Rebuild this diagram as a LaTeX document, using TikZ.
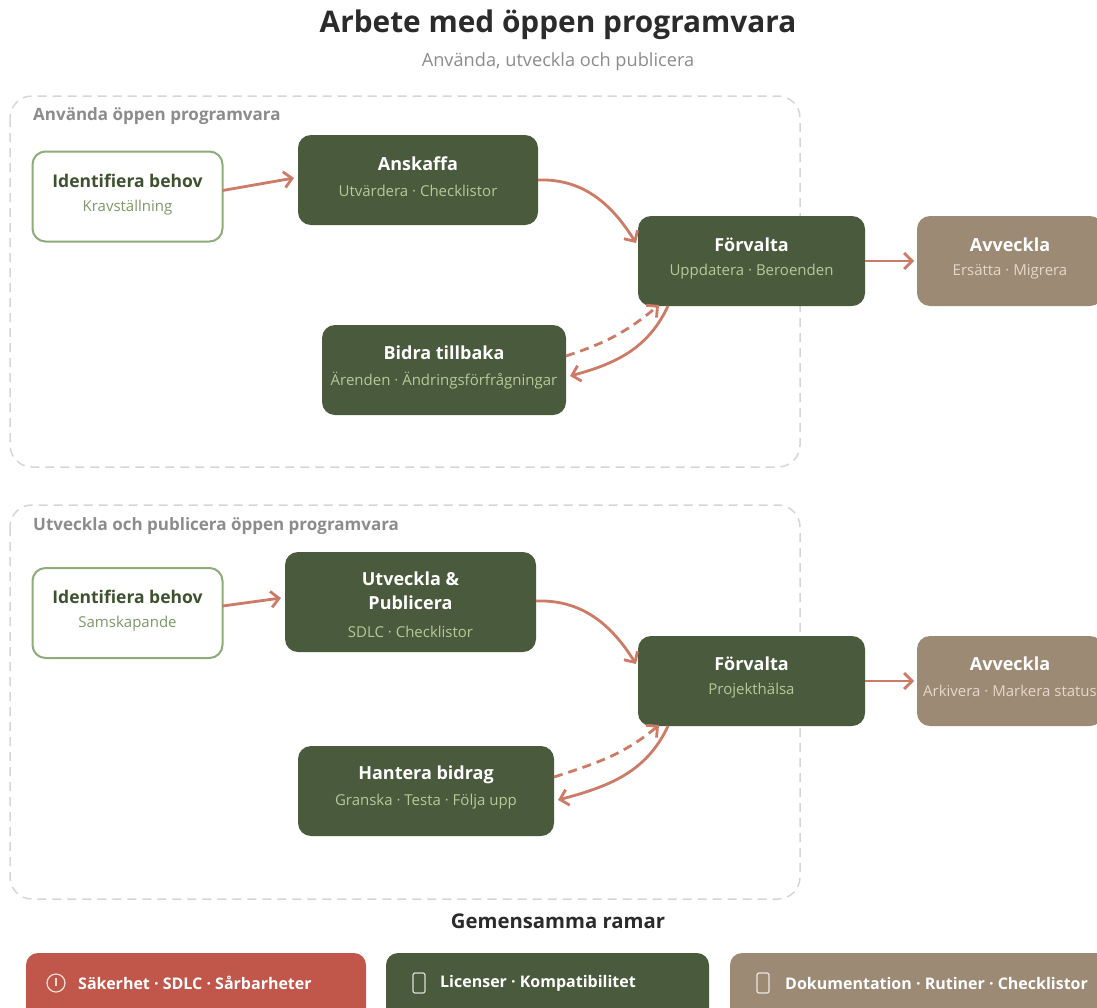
\documentclass[tikz,border=0pt]{standalone}
\usepackage{fontspec}
\setmainfont{Open Sans}
\usetikzlibrary{arrows.meta}
\definecolor{dgreen}{HTML}{4A5A3C}
\definecolor{taupe}{HTML}{9C8A74}
\definecolor{redc}{HTML}{C0574A}
\definecolor{arr}{HTML}{CC7B66}
\definecolor{subg}{HTML}{B6C99A}
\definecolor{subt}{HTML}{E4D8C8}
\definecolor{lgborder}{HTML}{8FAB78}
\definecolor{idtitle}{HTML}{3F5230}
\definecolor{idsub}{HTML}{7D9868}
\definecolor{grpline}{HTML}{D6D6D6}
\definecolor{grptext}{HTML}{8C8C8C}
\definecolor{titlec}{HTML}{2B2B2B}
\tikzset{
  box/.style={rounded corners=13pt, inner sep=0pt, outer sep=0pt},
  dbox/.style={box, fill=dgreen},
  tbox/.style={box, fill=taupe},
  wbox/.style={box, fill=white, draw=lgborder, line width=2pt},
  ttl/.style={text=white, font=\fontsize{18}{21}\selectfont\bfseries, inner sep=0pt},
  sub/.style={text=subg, font=\fontsize{15}{18}\selectfont, inner sep=0pt},
  grp/.style={draw=grpline, line width=1.5pt, dash pattern=on 9pt off 6pt, rounded corners=22pt},
  grplbl/.style={text=grptext, font=\fontsize{17}{20}\selectfont\bfseries, anchor=west, inner sep=0pt},
  flow/.style={draw=arr, line width=2.8pt, -{Straight Barb[length=8pt,width=16pt,line width=2.8pt]}},
  bar/.style={rounded corners=12pt, inner sep=0pt},
  bartxt/.style={text=white, font=\fontsize{16}{19}\selectfont\bfseries, anchor=west, inner sep=0pt},
}
\begin{document}
\begin{tikzpicture}[x=1pt,y=-1pt]
\useasboundingbox (0,0) rectangle (1097,1007);
\fill[white] (0,0) rectangle (1097,1007);

% title
\node[text=titlec, font=\fontsize{29.8}{34}\selectfont\bfseries, inner sep=0pt] (title) at (558,25) {Arbete med öppen programvara};
\node[text=grptext, font=\fontsize{18.2}{21}\selectfont, inner sep=0pt] (subtitle) at (558,62) {Använda, utveckla och publicera};

% groups
\draw[grp] (10,96) rectangle (800,467);
\node[grplbl] (g1lbl) at (33,116) {Använda öppen programvara};
\draw[grp] (10,505) rectangle (800,899);
\node[grplbl] (g2lbl) at (33,526) {Utveckla och publicera öppen programvara};

% ---------- group 1
\node[wbox, minimum width=190pt, minimum height=90pt] (id1) at (127.5,196.5) {};
\node[ttl, text=idtitle, font=\fontsize{17.5}{20}\selectfont\bfseries] (id1t) at ([yshift=15.5pt]id1.center) {Identifiera behov};
\node[sub, text=idsub] (id1s) at ([yshift=-11.5pt]id1.center) {Kravställning};

\node[dbox, minimum width=240pt, minimum height=90pt] (ansk) at (418,180) {};
\node[ttl] (anskt) at ([yshift=16pt]ansk.center) {Anskaffa};
\node[sub] (ansks) at ([yshift=-11pt]ansk.center) {Utvärdera · Checklistor};

\node[dbox, minimum width=227pt, minimum height=90pt] (forv1) at (751.5,261) {};
\node[ttl] (forv1t) at ([yshift=16pt]forv1.center) {Förvalta};
\node[sub] (forv1s) at ([yshift=-11pt]forv1.center) {Uppdatera · Beroenden};

\node[tbox, minimum width=186pt, minimum height=90pt] (avv1) at (1010,261) {};
\node[ttl] (avv1t) at ([yshift=16pt]avv1.center) {Avveckla};
\node[sub, text=subt] (avv1s) at ([yshift=-11pt]avv1.center) {Ersätta · Migrera};

\node[dbox, minimum width=244pt, minimum height=90pt] (bidra) at (444,370) {};
\node[ttl] (bidrat) at ([yshift=17pt]bidra.center) {Bidra tillbaka};
\node[sub] (bidras) at ([yshift=-11pt]bidra.center) {Ärenden · Ändringsförfrågningar};

\draw[flow] ([yshift=6pt]id1.east) -- ([xshift=-4pt,yshift=2pt]ansk.west);
\draw[flow] (ansk.east) to[out=2,in=122] ([xshift=-2pt,yshift=18pt]forv1.west);
\draw[flow] (forv1.east) -- ([xshift=-3pt]avv1.west);
\draw[flow, dash pattern=on 9pt off 6pt] ([yshift=14pt]bidra.east) to[out=18,in=-140] ([xshift=21pt,yshift=1pt]forv1.south west);
\draw[flow] ([xshift=30pt]forv1.south west) to[out=-115,in=15] ([xshift=4pt,yshift=-6pt]bidra.east);

% ---------- group 2
\node[wbox, minimum width=190pt, minimum height=90pt] (id2) at (127.5,613) {};
\node[ttl, text=idtitle, font=\fontsize{17.5}{20}\selectfont\bfseries] (id2t) at ([yshift=16pt]id2.center) {Identifiera behov};
\node[sub, text=idsub] (id2s) at ([yshift=-11pt]id2.center) {Samskapande};

\node[dbox, minimum width=251pt, minimum height=100pt] (utv) at (410.5,602) {};
\node[ttl] (utvt1) at ([yshift=23pt]utv.center) {Utveckla \&};
\node[ttl] (utvt2) at ([yshift=-1pt]utv.center) {Publicera};
\node[sub] (utvs) at ([yshift=-30pt]utv.center) {SDLC · Checklistor};

\node[dbox, minimum width=227pt, minimum height=90pt] (forv2) at (751.5,681) {};
\node[ttl] (forv2t) at ([yshift=17pt]forv2.center) {Förvalta};
\node[sub] (forv2s) at ([yshift=-10pt]forv2.center) {Projekthälsa};

\node[tbox, minimum width=186pt, minimum height=90pt] (avv2) at (1010,681) {};
\node[ttl] (avv2t) at ([yshift=17pt]avv2.center) {Avveckla};
\node[sub, text=subt] (avv2s) at ([yshift=-10pt]avv2.center) {Arkivera · Markera status};

\node[dbox, minimum width=256pt, minimum height=90pt] (hant) at (426,791) {};
\node[ttl] (hantt) at ([yshift=16pt]hant.center) {Hantera bidrag};
\node[sub] (hants) at ([yshift=-11pt]hant.center) {Granska · Testa · Följa upp};

\draw[flow] ([yshift=7pt]id2.east) -- ([xshift=-4pt,yshift=4pt]utv.west);
\draw[flow] ([yshift=1pt]utv.east) to[out=2,in=122] ([xshift=-2pt,yshift=17pt]forv2.west);
\draw[flow] (forv2.east) -- ([xshift=-3pt]avv2.west);
\draw[flow, dash pattern=on 9pt off 6pt] ([yshift=14pt]hant.east) to[out=18,in=-140] ([xshift=21pt,yshift=1pt]forv2.south west);
\draw[flow] ([xshift=30pt]forv2.south west) to[out=-115,in=15] ([xshift=4pt,yshift=-9pt]hant.east);

% ---------- common frames
\node[text=titlec, font=\fontsize{20.3}{24}\selectfont\bfseries, inner sep=0pt] (common) at (558,921) {Gemensamma ramar};

\fill[redc, bar] (26,953) rectangle (366,1030);
\fill[dgreen, bar] (386,953) rectangle (709,1030);
\fill[taupe, bar] (730,953) rectangle (1120,1030);
\coordinate (b1) at (56,983);
\draw[white!80!redc, line width=1.2pt] (b1) circle (9pt);
\draw[white!80!redc, line width=1.2pt] ([yshift=5pt]b1) -- ([yshift=-3pt]b1);
\coordinate (b2) at (419,983);
\draw[white!80!dgreen, line width=1.2pt, rounded corners=2pt] ([xshift=-6pt,yshift=-10pt]b2) rectangle ([xshift=6pt,yshift=10pt]b2);
\coordinate (b3) at (763,983);
\draw[white!80!taupe, line width=1.2pt, rounded corners=2pt] ([xshift=-6pt,yshift=-10pt]b3) rectangle ([xshift=6pt,yshift=10pt]b3);
\node[bartxt] (bt1) at (78,983) {Säkerhet · SDLC · Sårbarheter};
\node[bartxt] (bt2) at (440,983) {Licenser · Kompatibilitet};
\node[bartxt] (bt3) at (785,983) {Dokumentation · Rutiner · Checklistor};
\end{tikzpicture}
\end{document}
